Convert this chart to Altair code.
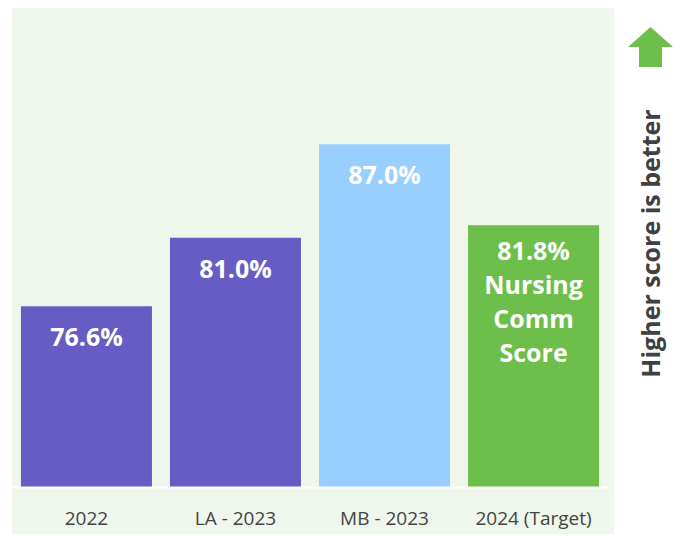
import altair as alt
import pandas as pd

categories = ["2022", "LA - 2023", "MB - 2023", "2024 (Target)"]
values = [76.6, 81.0, 87.0, 81.8]
extra_text = ["", "", "", "\nNursing\nComm\nScore"]
bar_colors = ["#665cc4", "#665cc4", "#99cfff", "#6dbe4b"]

labels = [f"{v:.1f}%" + e for v, e in zip(values, extra_text)]
df = pd.DataFrame({"cat": categories, "value": values, "label": labels,
                   "color": bar_colors, "multi": [e != "" for e in extra_text]})

FONT = "Open Sans"
W, H = 596, 479
YMIN = 65

xenc = alt.X("cat:N", sort=categories, title=None,
             scale=alt.Scale(paddingInner=0.121, paddingOuter=0.06),
             axis=alt.Axis(labelAngle=0, ticks=False, tickSize=0, domainColor="white",
                           domainWidth=2, labelFont=FONT, labelFontSize=19,
                           labelColor="#444444", labelPadding=22, grid=False, zindex=1))
yscale = alt.Scale(domain=[YMIN, 95.75], zero=False, nice=False)
yenc = alt.Y("value:Q", scale=yscale, axis=None)

bg = alt.Chart(pd.DataFrame({"a": [1]})).mark_rect(color="#eff6ec").encode(
    x=alt.value(0), x2=alt.value(602), y=alt.value(0), y2=alt.value(534))

bars = alt.Chart(df).mark_bar().encode(
    x=xenc, y=yenc, y2=alt.datum(YMIN), color=alt.Color("color:N", scale=None))

txt_single = alt.Chart(df).transform_filter("!datum.multi").mark_text(
    font=FONT, fontSize=25, fontWeight="bold", color="white",
    baseline="top", dy=20).encode(x=alt.X("cat:N", sort=categories), y=yenc, text="label:N")

txt_multi = alt.Chart(df).transform_filter("datum.multi").mark_text(
    font=FONT, fontSize=25, fontWeight="bold", color="white",
    baseline="top", dy=15, lineBreak="\n", lineHeight=34).encode(
    x=alt.X("cat:N", sort=categories), y=yenc, text="label:N")

arrow = alt.Chart(pd.DataFrame({"a": [1]})).mark_point(
    shape="M0,-0.89 L1,0 L0.51,0 L0.51,0.89 L-0.51,0.89 L-0.51,0 L-1,0 Z",
    filled=True, color="#6dbe4b", opacity=1, size=2025, strokeWidth=0).encode(
    x=alt.value(638.5), y=alt.value(39))

side = alt.Chart(pd.DataFrame({"t": ["Higher score is better"]})).mark_text(
    font=FONT, fontSize=25, fontWeight="bold", color="#404040", angle=270,
    align="center", baseline="middle").encode(
    x=alt.value(640), y=alt.value(235.5), text="t:N")

chart = alt.layer(bg, bars, txt_single, txt_multi, arrow, side).properties(
    width=W, height=H,
    autosize=alt.AutoSizeParams(type="none"),
    padding={"left": 4, "top": 0, "right": 65, "bottom": 47},
).configure_view(stroke=None).configure(background="white")

chart.save("out.html", embed_options={"renderer": "svg", "actions": False})
